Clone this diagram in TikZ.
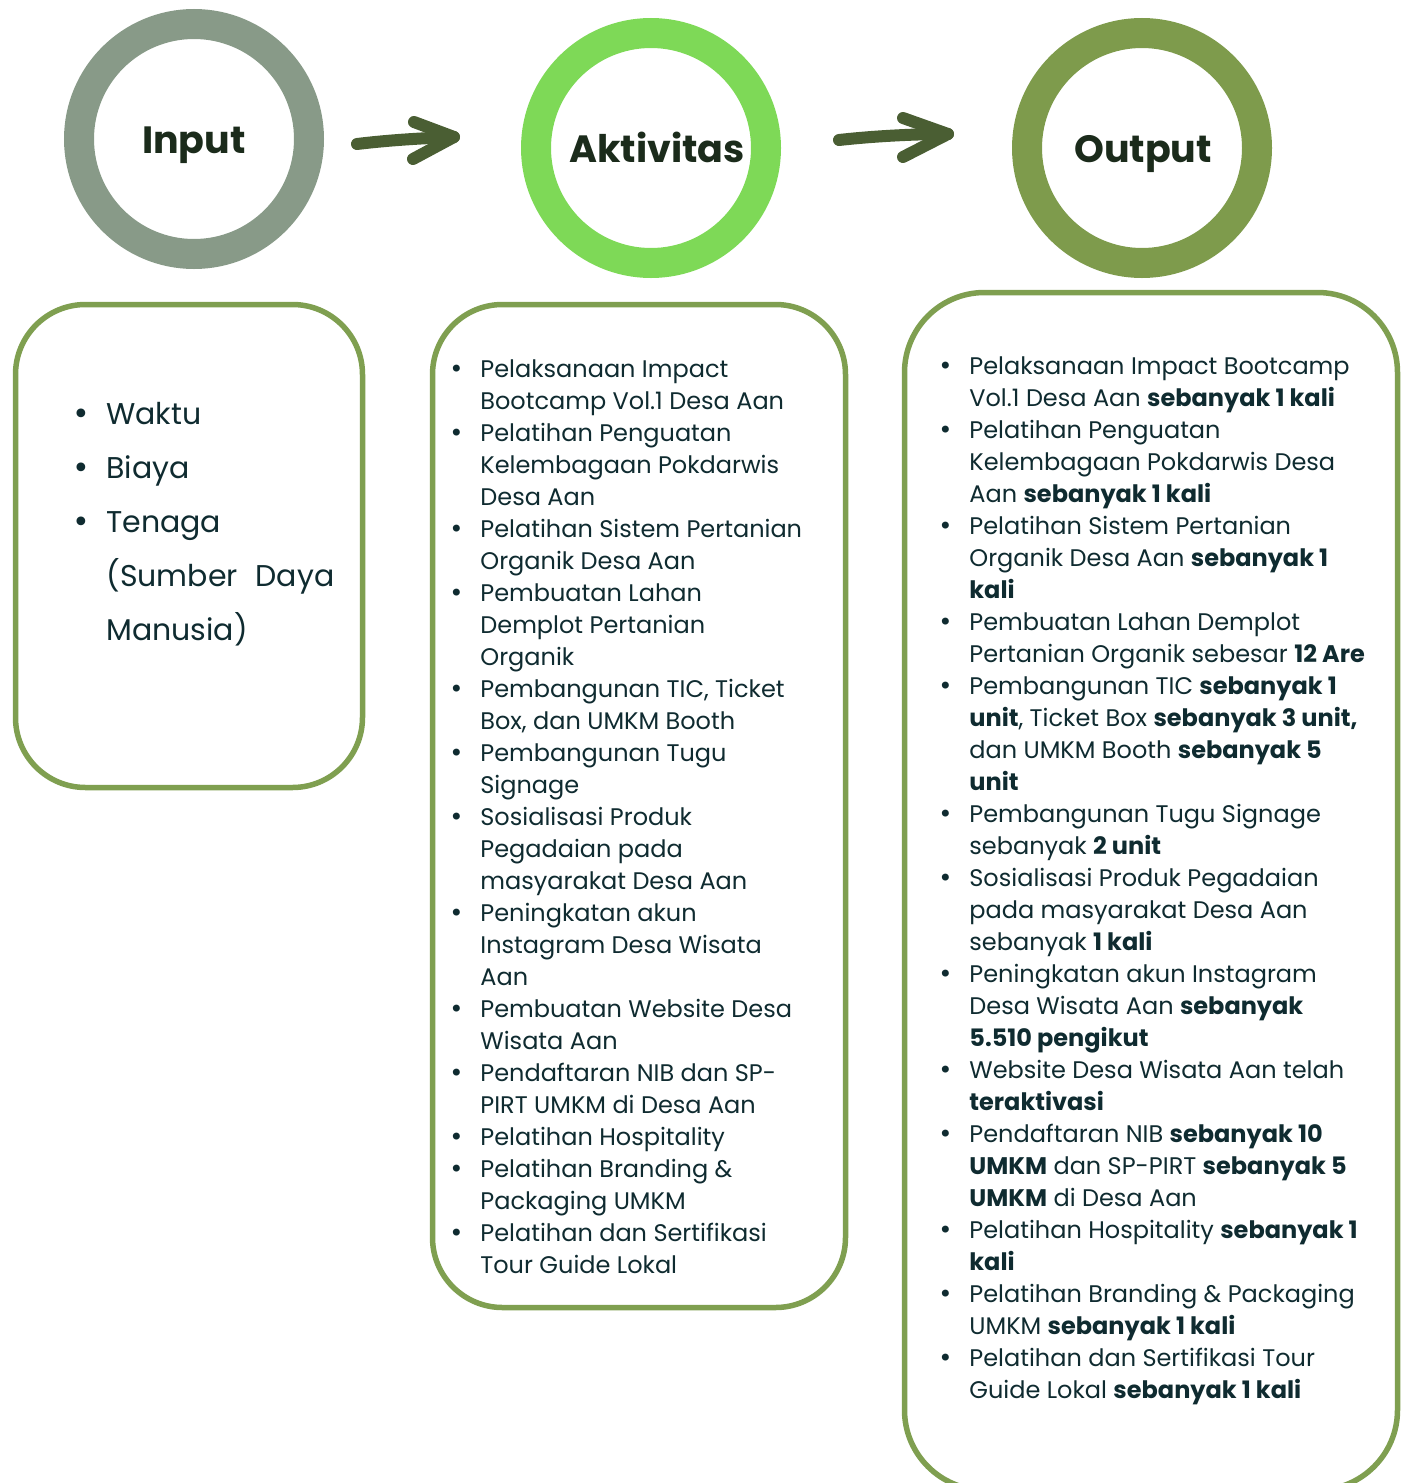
\documentclass[tikz,border=0pt]{standalone}
\usepackage{fontspec}
\setmainfont{Poppins}
\newfontfamily\bulfont{DejaVu Sans}
\usepackage{array}

\definecolor{ringin}{HTML}{889A88}
\definecolor{ringact}{HTML}{7ED957}
\definecolor{ringout}{HTML}{7E9B4C}
\definecolor{arrowc}{HTML}{4A5E33}
\definecolor{boxc}{HTML}{7F9F50}
\definecolor{titlec}{HTML}{1B2B1B}
\definecolor{bodyc}{HTML}{0F2B30}

\newcommand{\bl}{{\bulfont •}}

\begin{document}
\begin{tikzpicture}[x=0.5pt,y=-0.5pt,
  ring/.style={circle, draw=#1, line width=15pt, minimum size=115pt, inner sep=0pt},
  title/.style={anchor=base, inner sep=0pt, text=titlec,
    font=\fontsize{19}{22}\selectfont\bfseries},
  panel/.style={draw=boxc, line width=2.75pt, rounded corners=35pt, fill=white},
  arrowstroke/.style={draw=arrowc, line width=6pt, line cap=round, line join=round},
  listtext/.style={anchor=base west, inner sep=0pt, text=bodyc}
]
\useasboundingbox (0,0) rectangle (1406,1483);

% stage circles and their titles
\node[ring=ringin]  (cin)  at (194,139) {};
\node[ring=ringact] (cact) at (651,148) {};
\node[ring=ringout] (cout) at (1142,148) {};
\node[title] (tin)  at (194,153) {Input};
\node[title] (tact) at (657,162) {Aktivitas};
\node[title] (tout) at (1143,162) {Output};

% hand-drawn arrows between the circles
\coordinate (a1s) at (357,144);
\coordinate (a1t) at (454,137);
\coordinate (a1u) at (414,122);
\coordinate (a1d) at (413,159);
\draw[arrowstroke] (a1s) .. controls (390,140) and (425,138) .. (a1t);
\draw[arrowstroke] (a1u) -- (a1t) -- (a1d);

\coordinate (a2s) at (839,140);
\coordinate (a2t) at (948,134);
\coordinate (a2u) at (903,118);
\coordinate (a2d) at (903,157);
\draw[arrowstroke] (a2s) .. controls (875,136) and (915,134) .. (a2t);
\draw[arrowstroke] (a2u) -- (a2t) -- (a2d);

% rounded panels
\node[panel, minimum width=173.5pt, minimum height=241.5pt] (pin)  at (189,546) {};
\node[panel, minimum width=206.5pt, minimum height=501.5pt] (pact) at (639,806) {};
\node[panel, minimum width=246.5pt, minimum height=598.75pt, rounded corners=40pt] (pout) at (1151,891.25) {};

% input list
\node[listtext, font=\fontsize{15}{27}\selectfont] (lin) at (72,424) {%
\begin{tabular}[t]{@{}p{17pt}@{}l@{}}
\bl & Waktu\\
\bl & Biaya\\
\bl & Tenaga\\
    & \makebox[114pt][s]{(Sumber Daya}\\
    & Manusia)
\end{tabular}};

% activity list
\node[listtext, font=\fontsize{12}{16}\selectfont] (lact) at (449,377) {%
\begin{tabular}[t]{@{}p{15.5pt}@{}l@{}}
\bl & Pelaksanaan Impact\\
    & Bootcamp Vol.1 Desa Aan\\
\bl & Pelatihan Penguatan\\
    & Kelembagaan Pokdarwis\\
    & Desa Aan\\
\bl & Pelatihan Sistem Pertanian\\
    & Organik Desa Aan\\
\bl & Pembuatan Lahan\\
    & Demplot Pertanian\\
    & Organik\\
\bl & Pembangunan TIC, Ticket\\
    & Box, dan UMKM Booth\\
\bl & Pembangunan Tugu\\
    & Signage\\
\bl & Sosialisasi Produk\\
    & Pegadaian pada\\
    & masyarakat Desa Aan\\
\bl & Peningkatan akun\\
    & Instagram Desa Wisata\\
    & Aan\\
\bl & Pembuatan Website Desa\\
    & Wisata Aan\\
\bl & Pendaftaran NIB dan SP-\\
    & PIRT UMKM di Desa Aan\\
\bl & Pelatihan Hospitality\\
\bl & Pelatihan Branding \&\\
    & Packaging UMKM\\
\bl & Pelatihan dan Sertifikasi\\
    & Tour Guide Lokal
\end{tabular}};

% output list
\node[listtext, font=\fontsize{12}{16}\selectfont] (lout) at (938,374) {%
\begin{tabular}[t]{@{}p{15.5pt}@{}l@{}}
\bl & Pelaksanaan Impact Bootcamp\\
    & Vol.1 Desa Aan \textbf{sebanyak 1 kali}\\
\bl & Pelatihan Penguatan\\
    & Kelembagaan Pokdarwis Desa\\
    & Aan \textbf{sebanyak 1 kali}\\
\bl & Pelatihan Sistem Pertanian\\
    & Organik Desa Aan \textbf{sebanyak 1}\\
    & \textbf{kali}\\
\bl & Pembuatan Lahan Demplot\\
    & Pertanian Organik sebesar \textbf{12 Are}\\
\bl & Pembangunan TIC \textbf{sebanyak 1}\\
    & \textbf{unit}, Ticket Box \textbf{sebanyak 3 unit,}\\
    & dan UMKM Booth \textbf{sebanyak 5}\\
    & \textbf{unit}\\
\bl & Pembangunan Tugu Signage\\
    & sebanyak \textbf{2 unit}\\
\bl & Sosialisasi Produk Pegadaian\\
    & pada masyarakat Desa Aan\\
    & sebanyak \textbf{1 kali}\\
\bl & Peningkatan akun Instagram\\
    & Desa Wisata Aan \textbf{sebanyak}\\
    & \textbf{5.510 pengikut}\\
\bl & Website Desa Wisata Aan telah\\
    & \textbf{teraktivasi}\\
\bl & Pendaftaran NIB \textbf{sebanyak 10}\\
    & \textbf{UMKM} dan SP-PIRT \textbf{sebanyak 5}\\
    & \textbf{UMKM} di Desa Aan\\
\bl & Pelatihan Hospitality \textbf{sebanyak 1}\\
    & \textbf{kali}\\
\bl & Pelatihan Branding \& Packaging\\
    & UMKM \textbf{sebanyak 1 kali}\\
\bl & Pelatihan dan Sertifikasi Tour\\
    & Guide Lokal \textbf{sebanyak 1 kali}
\end{tabular}};
\end{tikzpicture}
\end{document}
